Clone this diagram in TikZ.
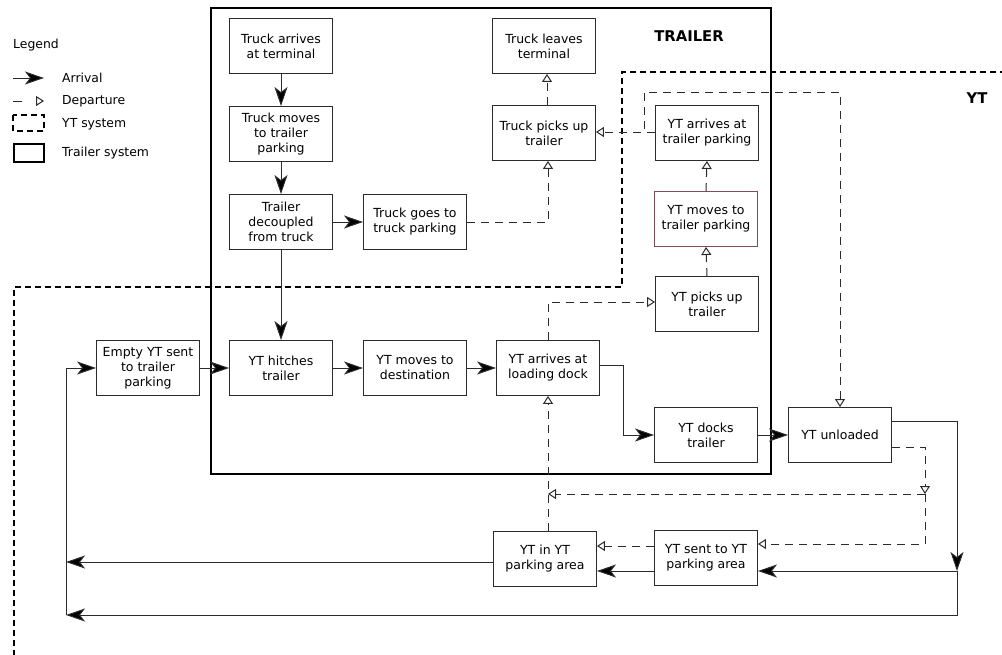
\documentclass[tikz,border=0pt]{standalone}
\usepackage{fontspec}
\setmainfont{DejaVu Sans}
\usetikzlibrary{arrows.meta,calc}
\definecolor{ln}{HTML}{2B2B2B}
\definecolor{brn}{HTML}{7F4F4F}
\tikzset{
  box/.style={draw=ln, line width=0.9pt, fill=white, rectangle, minimum width=103pt, minimum height=55pt, inner sep=1pt, align=center, font=\fontsize{12.5}{15}\selectfont},
  arr/.style={draw=ln, line width=1pt, -{Stealth[length=19pt,width=13pt,inset=5pt,fill=black]}},
  dep/.style={draw=ln, line width=1pt, dash pattern=on 8pt off 6pt, -{Triangle[open,length=8pt,width=10pt]}},
  trsys/.style={draw=black, line width=1.4pt},
  ytsys/.style={draw=black, line width=1.4pt, dash pattern=on 6pt off 4pt},
  lbl/.style={font=\fontsize{12.4}{15}\selectfont, inner sep=0pt},
  blbl/.style={font=\fontsize{14.8}{16}\selectfont\bfseries, inner sep=0pt}
}
\begin{document}
\begin{tikzpicture}[x=1pt,y=-1pt]
\useasboundingbox (0,0) rectangle (1002,654);
% systems
\draw[ytsys] (1006,72) -- (622,72) -- (622,287) -- (14,287) -- (14,658);
\draw[trsys] (211,8) rectangle (771,474);
\node[blbl] (trlabel) at (689,36) {TRAILER};
\node[blbl] (ytlabel) at (977,98) {YT};
% legend
\node[lbl, anchor=west] (leg) at (13,45) {Legend};
\draw[arr] (13,78) -- (44,78);
\node[lbl, anchor=west] (legarr) at (62,78) {Arrival};
\draw[dep, dash pattern=on 9pt off 30pt] (13,101) -- (44,101);
\node[lbl, anchor=west] (legdep) at (62,101) {Departure};
\draw[ytsys] (13,115) rectangle (44,131);
\node[lbl, anchor=west] (legyt) at (62,124) {YT system};
\draw[trsys] (14,144) rectangle (44,162);
\node[lbl, anchor=west] (legtr) at (62,153) {Trailer system};
% nodes
\node[box] (n1) at (281,46) {Truck arrives\\at terminal};
\node[box] (n2) at (281,134) {Truck moves\\to trailer\\parking};
\node[box] (n3) at (281,222) {Trailer\\decoupled\\from truck};
\node[box] (n4) at (415,222) {Truck goes to\\truck parking};
\node[box] (n5) at (544,46) {Truck leaves\\terminal};
\node[box] (n6) at (544,133) {Truck picks up\\trailer};
\node[box] (n7) at (707,133) {YT arrives at\\trailer parking};
\node[box, draw=brn] (n8) at (706,219) {YT moves to\\trailer parking};
\node[box] (n9) at (707,304) {YT picks up\\trailer};
\node[box] (n10) at (548,368) {YT arrives at\\loading dock};
\node[box] (n11) at (415,368) {YT moves to\\destination};
\node[box] (n12) at (281,368) {YT hitches\\trailer};
\node[box] (n13) at (148,368) {Empty YT sent\\to trailer\\parking};
\node[box] (n14) at (706,435) {YT docks\\trailer};
\node[box] (n15) at (840,435) {YT unloaded};
\node[box] (n16) at (706,558) {YT sent to YT\\parking area};
\node[box] (n17) at (545,559) {YT in YT\\parking area};
\coordinate (c1) at (957,571);
\coordinate (c2) at (66,615);
\coordinate (j1) at (925,494);
\coordinate (j2) at (548,494);
% arrivals
\draw[arr] (n1.south) -- (n2.north);
\draw[arr] (n2.south) -- (n3.north);
\draw[arr] (n3.east) -- (n4.west);
\draw[arr] (n3.south) -- (n12.north);
\draw[arr] (n13.east) -- (n12.west);
\draw[arr] (n12.east) -- (n11.west);
\draw[arr] (n11.east) -- (n10.west);
\draw[arr] ([yshift=3pt]n10.east) -- ++(24,0) |- (n14.west);
\draw[arr] (n14.east) -- (n15.west);
\draw[arr] ([yshift=14pt]n15.east) -| (c1);
\draw[arr] (c1) -- (c1 -| n16.east);
\draw[arr] (c1) |- (c2);
\draw[arr] (c2) |- (n13.west);
\draw[arr] ([yshift=-13pt]n16.west) -- ([yshift=-13pt]n16.west -| n17.east);
\draw[arr] ([yshift=-3pt]n17.west) -- ([yshift=-3pt]n17.west -| c2);
% departures
\draw[dep] (n4.east) -| ([xshift=4pt]n6.south);
\draw[dep] ([xshift=3pt]n6.north) -- ([xshift=3pt]n5.south);
\draw[dep] ([yshift=1pt]n7.west) -- ([yshift=1pt]n7.west -| n6.east);
\draw[dep] ([yshift=1pt]n7.west) -- ++(-11,0) -- ++(0,-40) -| (n15.north);
\draw[dep] (n8.north) -- (n7.south);
\draw[dep] (n9.north) -- (n8.south);
\draw[dep] (n10.north) |- ([yshift=2pt]n9.west);
\draw[dep] (n10.south |- n17.north) -- (n10.south);
\draw[dep] ([yshift=-12pt]n15.east) -| (j1);
\draw[dep] (j1) |- ([yshift=14pt]n16.east);
\draw[dep] (j1) -- (j2);
\draw[dep] ([yshift=12pt]n16.west) -- ([yshift=12pt]n16.west -| n17.east);
\end{tikzpicture}
\end{document}
